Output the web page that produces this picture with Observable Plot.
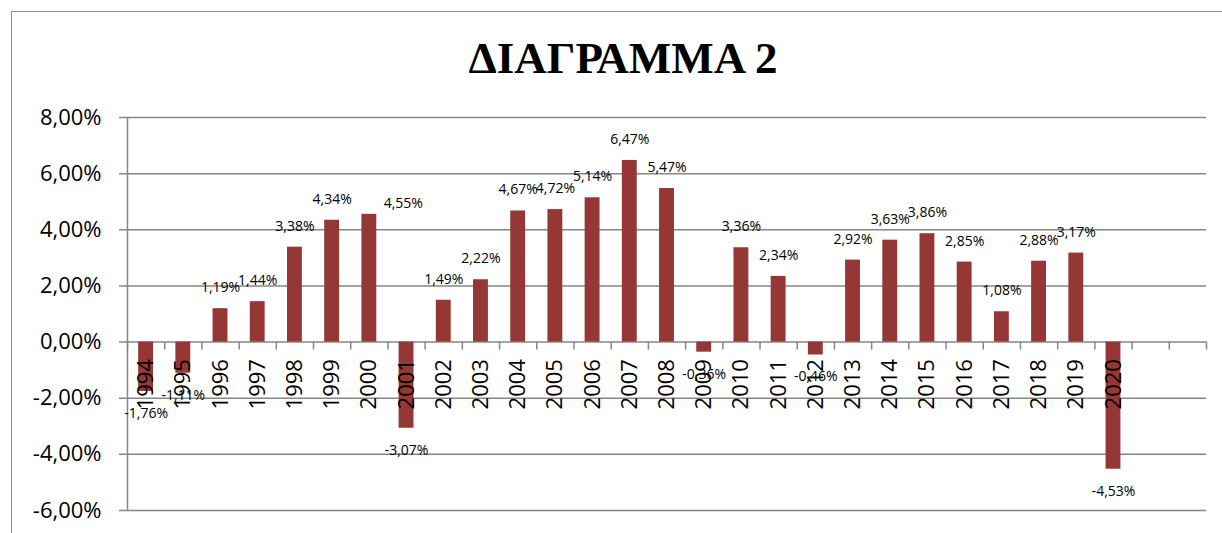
<!DOCTYPE html>
<html>
<head>
<meta charset="utf-8">
<script src="https://cdn.jsdelivr.net/npm/d3@7"></script>
<script src="https://cdn.jsdelivr.net/npm/@observablehq/plot@0.6"></script>
<style>
  html, body { margin: 0; padding: 0; background: #fff; overflow: hidden; }
  #wrap { position: relative; width: 1222px; height: 533px; }
  #frame { position: absolute; left: 11px; top: 11px; width: 1400px; height: 700px;
           border-left: 1.5px solid #8c8c8c; border-top: 1.5px solid #8c8c8c; pointer-events: none; }
  #title { position: absolute; left: 623px; top: 36px; transform: translateX(-50%);
           font-family: "Liberation Serif", "DejaVu Serif", serif; font-weight: bold;
           font-size: 45px; line-height: 45px; white-space: nowrap; color: #000; }
  #chart { position: absolute; left: 0; top: 0; }
</style>
</head>
<body>
<div id="wrap">
  <div id="chart"></div>
  <div id="title">ΔΙΑΓΡΑΜΜΑ 2</div>
  <div id="frame"></div>
</div>
<script>
const years = ["1994","1995","1996","1997","1998","1999","2000","2001","2002","2003","2004","2005","2006","2007","2008","2009","2010","2011","2012","2013","2014","2015","2016","2017","2018","2019","2020"];
const values = [-1.76,-1.11,1.19,1.44,3.38,4.34,4.55,-3.07,1.49,2.22,4.67,4.72,5.14,6.47,5.47,-0.36,3.36,2.34,-0.46,2.92,3.63,3.86,2.85,1.08,2.88,3.17,-4.53];
const yTicks = [-6,-4,-2,0,2,4,6,8];
const slots = 29; // category slots on the axis (two empty after 2020)

const loc = d3.formatLocale({decimal: ",", thousands: ".", grouping: [3], currency: ["", "€"], minus: "-"});
const f2 = loc.format(".2f");
const pct = d => f2(d) + "%";

const data = years.map((year, i) => ({year, v: values[i], i}));
const pos = data.filter(d => d.v >= 0 && d.year !== "2000");
const neg = data.filter(d => d.v < 0);
const moved = data.filter(d => d.year === "2000");

const grid = "#868686";
const font = "'Open Sans', 'Liberation Sans', sans-serif";

const chart = Plot.plot({
  width: 1222,
  height: 533,
  marginLeft: 127,
  marginRight: 16,
  marginTop: 117,
  marginBottom: 23,
  x: {domain: [0, slots], axis: null},
  y: {domain: [-6, 8], axis: null},
  style: {fontFamily: font, background: "transparent", overflow: "visible"},
  marks: [
    Plot.ruleY(yTicks, {stroke: grid, strokeWidth: 1.5, insetLeft: -8}),
    Plot.ruleX([0], {stroke: grid, strokeWidth: 1.5}),
    Plot.ruleX(d3.range(slots + 1), {x: d => d, y1: () => 0, y2: () => 0, insetBottom: -8, stroke: grid, strokeWidth: 1.5}),
    Plot.rectY(data, {x1: d => d.i + 0.3, x2: d => d.i + 0.7, y1: () => 0, y2: "v", fill: "#953735"}),
    Plot.text(data, {x: d => d.i + 0.5, y: () => 0, text: "year", rotate: -90, textAnchor: "end", dy: 17, fontSize: 22, fill: "#000"}),
    Plot.text(pos, {x: d => d.i + 0.5, y: "v", text: d => pct(d.v), dy: -21, fontSize: 14, fill: "#000"}),
    Plot.text(moved, {x: d => d.i + 0.5, y: "v", text: d => pct(d.v), dy: -11, dx: 34, fontSize: 14, fill: "#000"}),
    Plot.text(neg, {x: d => d.i + 0.5, y: "v", text: d => pct(d.v), dy: 22, fontSize: 14, fill: "#000"}),
    Plot.text(yTicks, {y: d => d, frameAnchor: "left", text: d => pct(d), textAnchor: "end", dx: -26, fontSize: 22, fill: "#000"})
  ]
});
document.getElementById("chart").appendChild(chart);
</script>
</body>
</html>
